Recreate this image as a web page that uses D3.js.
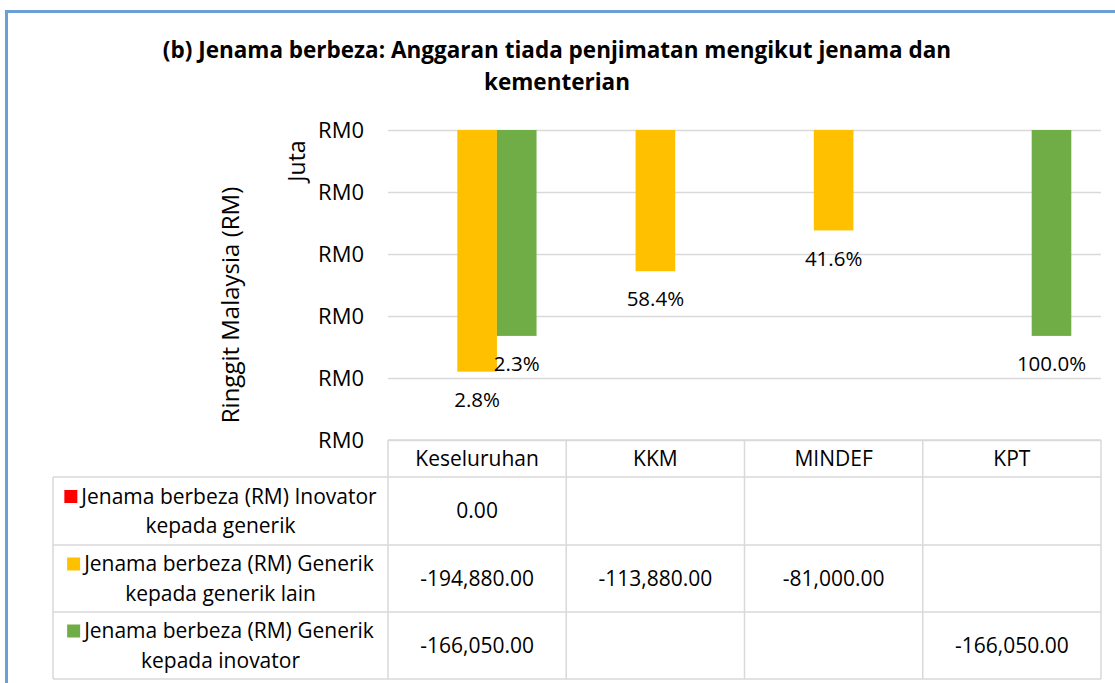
<!DOCTYPE html>
<html>
<head>
<meta charset="utf-8">
<script src="https://cdn.jsdelivr.net/npm/d3@7"></script>
<style>
  body { margin: 0; background: #fff; }
  text { font-family: "Open Sans", "Noto Sans", sans-serif; fill: #000; }
</style>
</head>
<body>
<div id="chart"></div>
<script>
// data
const categories = ["Keseluruhan", "KKM", "MINDEF", "KPT"];
const seriesKeys = ["inovGen", "genLain", "genInov"];
const seriesColors = ["#ff0000", "#ffc000", "#70ad47"];
const seriesLabels = [
  ["Jenama berbeza (RM) Inovator", "kepada generik"],
  ["Jenama berbeza (RM) Generik", "kepada generik lain"],
  ["Jenama berbeza (RM) Generik", "kepada inovator"]
];
const inovGenValues = [0, null, null, null];
const genLainValues = [-194880, -113880, -81000, null];
const genInovValues = [-166050, null, null, -166050];
const inovGenPct = [null, null, null, null];
const genLainPct = ["2.8%", "58.4%", "41.6%", null];
const genInovPct = ["2.3%", null, null, "100.0%"];
const yTicks = [0, -50000, -100000, -150000, -200000, -250000];

const seriesValues = [inovGenValues, genLainValues, genInovValues];
const seriesPct = [inovGenPct, genLainPct, genInovPct];

const width = 1115, height = 683;
const plot = { left: 388, right: 1101, top: 130, bottom: 440 };
const tableRows = [477, 545, 612, 679];
const tableLeft = 53;
const tableFont = "21px";

const svg = d3.select("#chart").append("svg")
  .attr("width", width)
  .attr("height", height);

// outer frame
svg.append("rect")
  .attr("x", 6.5).attr("y", 11.5)
  .attr("width", width + 20).attr("height", height + 20)
  .attr("fill", "none")
  .attr("stroke", "#6a9fd8")
  .attr("stroke-width", 3);

// title
svg.append("text")
  .attr("x", 557).attr("y", 50).attr("dy", "0.35em")
  .attr("text-anchor", "middle")
  .style("font-size", "22.5px").style("font-weight", "bold")
  .text("(b) Jenama berbeza: Anggaran tiada penjimatan mengikut jenama dan");
svg.append("text")
  .attr("x", 557).attr("y", 82).attr("dy", "0.35em")
  .attr("text-anchor", "middle")
  .style("font-size", "22.5px").style("font-weight", "bold")
  .text("kementerian");

const x = d3.scaleBand().domain(categories).range([plot.left, plot.right]);
const xInner = d3.scaleBand().domain(seriesKeys).range([0, x.bandwidth()])
  .paddingInner(0).paddingOuter(0.75);
const y = d3.scaleLinear().domain([-250000, 0]).range([plot.bottom, plot.top]);

// gridlines + tick labels
const yAxis = d3.axisLeft(y)
  .tickValues(yTicks)
  .tickSize(-(plot.right - plot.left))
  .tickPadding(24)
  .tickFormat(d => "RM" + (Math.round(d / 1e6) + 0));
const gy = svg.append("g")
  .attr("transform", `translate(${plot.left},0)`)
  .call(yAxis);
gy.select(".domain").remove();
gy.selectAll(".tick line").attr("stroke", "#d9d9d9").attr("stroke-width", 1.5);
gy.selectAll(".tick text")
  .style("font-size", "22px")
  .style("font-family", "'Open Sans', sans-serif")
  .attr("fill", "#000");

// axis titles
svg.append("text")
  .attr("transform", "translate(231,305) rotate(-90)")
  .attr("dy", "0.35em")
  .attr("text-anchor", "middle")
  .style("font-size", "24px")
  .text("Ringgit Malaysia (RM)");
svg.append("text")
  .attr("transform", "translate(297,161) rotate(-90)")
  .attr("dy", "0.35em")
  .attr("text-anchor", "middle")
  .style("font-size", "23px")
  .text("Juta");

// bars
const bars = [];
seriesKeys.forEach((k, si) => {
  categories.forEach((c, ci) => {
    const v = seriesValues[si][ci];
    if (v === null) return;
    bars.push({ key: k, cat: c, value: v, color: seriesColors[si], pct: seriesPct[si][ci] });
  });
});

svg.append("g").selectAll("rect")
  .data(bars)
  .join("rect")
  .attr("x", d => x(d.cat) + xInner(d.key))
  .attr("width", xInner.bandwidth())
  .attr("y", d => y(Math.max(0, d.value)))
  .attr("height", d => Math.abs(y(d.value) - y(0)))
  .attr("fill", d => d.color);

svg.append("g").selectAll("text")
  .data(bars.filter(d => d.pct))
  .join("text")
  .attr("x", d => x(d.cat) + xInner(d.key) + xInner.bandwidth() / 2)
  .attr("y", d => y(d.value) + 28)
  .attr("dy", "0.35em")
  .attr("text-anchor", "middle")
  .style("font-size", "20.5px")
  .text(d => d.pct);

// data table
const lineColor = "#d9d9d9";
const tbl = svg.append("g")
  .attr("stroke", lineColor)
  .attr("stroke-width", 1.5)
  .attr("fill", "none");

tbl.append("line").attr("x1", plot.left).attr("x2", plot.right)
  .attr("y1", plot.bottom).attr("y2", plot.bottom);
tableRows.forEach(r => {
  tbl.append("line").attr("x1", tableLeft).attr("x2", plot.right)
    .attr("y1", r).attr("y2", r);
});
tbl.append("line").attr("x1", tableLeft).attr("x2", tableLeft)
  .attr("y1", tableRows[0]).attr("y2", tableRows[3]);
categories.forEach(c => {
  tbl.append("line").attr("x1", x(c)).attr("x2", x(c))
    .attr("y1", plot.bottom).attr("y2", tableRows[3]);
});
tbl.append("line").attr("x1", plot.right).attr("x2", plot.right)
  .attr("y1", plot.bottom).attr("y2", tableRows[3]);

// header
svg.append("g").selectAll("text")
  .data(categories)
  .join("text")
  .attr("x", d => x(d) + x.bandwidth() / 2)
  .attr("y", (plot.bottom + tableRows[0]) / 2)
  .attr("dy", "0.35em")
  .attr("text-anchor", "middle")
  .style("font-size", tableFont)
  .text(d => d);

const fmt = d3.formatLocale({ decimal: ".", thousands: ",", grouping: [3], currency: ["", ""], minus: "-" }).format(",.2f");

// cell values + legend cells
seriesKeys.forEach((k, si) => {
  const rowMid = (tableRows[si] + tableRows[si + 1]) / 2;
  svg.append("g").selectAll("text")
    .data(categories.map((c, ci) => ({ cat: c, v: seriesValues[si][ci] })).filter(d => d.v !== null))
    .join("text")
    .attr("x", d => x(d.cat) + x.bandwidth() / 2)
    .attr("y", rowMid)
    .attr("dy", "0.35em")
    .attr("text-anchor", "middle")
    .style("font-size", tableFont)
    .text(d => fmt(d.v));

  const cx = (tableLeft + plot.left) / 2;
  const g = svg.append("g");
  const t1 = g.append("text")
    .attr("y", rowMid - 14.5).attr("dy", "0.35em")
    .style("font-size", tableFont)
    .text(seriesLabels[si][0]);
  const keySize = 13, gap = 4;
  const total = keySize + gap + t1.node().getComputedTextLength();
  const x0 = cx - total / 2;
  g.append("rect")
    .attr("x", x0).attr("y", rowMid - 14.5 - keySize / 2)
    .attr("width", keySize).attr("height", keySize)
    .attr("fill", seriesColors[si]);
  t1.attr("x", x0 + keySize + gap);
  g.append("text")
    .attr("x", cx).attr("y", rowMid + 15).attr("dy", "0.35em")
    .attr("text-anchor", "middle")
    .style("font-size", tableFont)
    .text(seriesLabels[si][1]);
});
</script>
</body>
</html>
